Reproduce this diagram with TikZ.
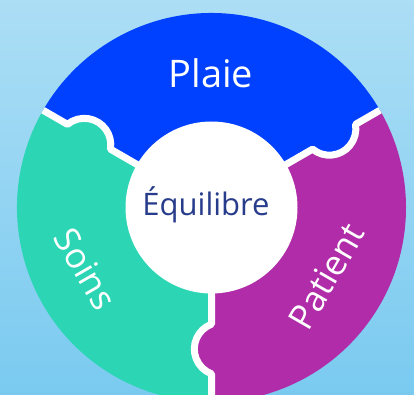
\documentclass[tikz,border=0pt]{standalone}
\usepackage{fontspec}
\setmainfont{Open Sans}
\usetikzlibrary{calc}
\definecolor{bgtop}{RGB}{172,222,245}
\definecolor{bgbottom}{RGB}{122,202,240}
\definecolor{plaieblue}{RGB}{0,64,255}
\definecolor{soinsteal}{RGB}{44,214,181}
\definecolor{patientpurple}{RGB}{176,44,168}
\definecolor{centretext}{RGB}{40,60,140}

\begin{document}
\begin{tikzpicture}[x=1pt,y=1pt,
    joint/.style={draw=white,line width=7pt,line join=round},
    ringlabel/.style={text=white,font=\fontsize{35}{40}\selectfont,inner sep=0pt},
    hub/.style={circle,fill=white,minimum size=172pt,inner sep=0pt},
    hubtext/.style={text=centretext,font=\fontsize{31}{35}\selectfont,inner sep=0pt}]

    \useasboundingbox (0,0) rectangle (414,394);
    \clip (0,0) rectangle (414,394);
    \shade[top color=bgtop,bottom color=bgbottom] (0,0) rectangle (414,394);

    \coordinate (c) at (211.5,186.5);

    % the three pieces
    \fill[plaieblue] (c) -- ++(30:194.5) arc[start angle=30,end angle=150,radius=194.5] -- cycle;
    \fill[soinsteal] (c) -- ++(150:194.5) arc[start angle=150,end angle=270,radius=194.5] -- cycle;
    \fill[patientpurple] (c) -- ++(270:194.5) arc[start angle=270,end angle=390,radius=194.5] -- cycle;

    % tabs and joints
    \foreach \a/\col in {30/plaieblue,150/soinsteal,270/patientpurple}{
        \begin{scope}[shift={(c)},rotate=\a]
            \fill[\col] (141.5,9.3) circle[radius=26.5];
            \draw[joint] (80,0) -- (116.7,0) arc[start angle=200.6,end angle=339.4,radius=26.5] -- (194.5,0);
        \end{scope}
    }

    \node[hub] (centre) at (c) {};
    \node[hubtext,anchor=base] (equilibre) at (206,179) {Équilibre};

    \node[ringlabel,anchor=base,font=\fontsize{38}{42}\selectfont] (plaie) at (211,306) {Plaie};
    \node[ringlabel,rotate=-60] (soins) at ($(c)+(206:140)$) {Soins};
    \node[ringlabel,rotate=60] (patient) at ($(c)+(-31:134)$) {Patient};
\end{tikzpicture}
\end{document}
